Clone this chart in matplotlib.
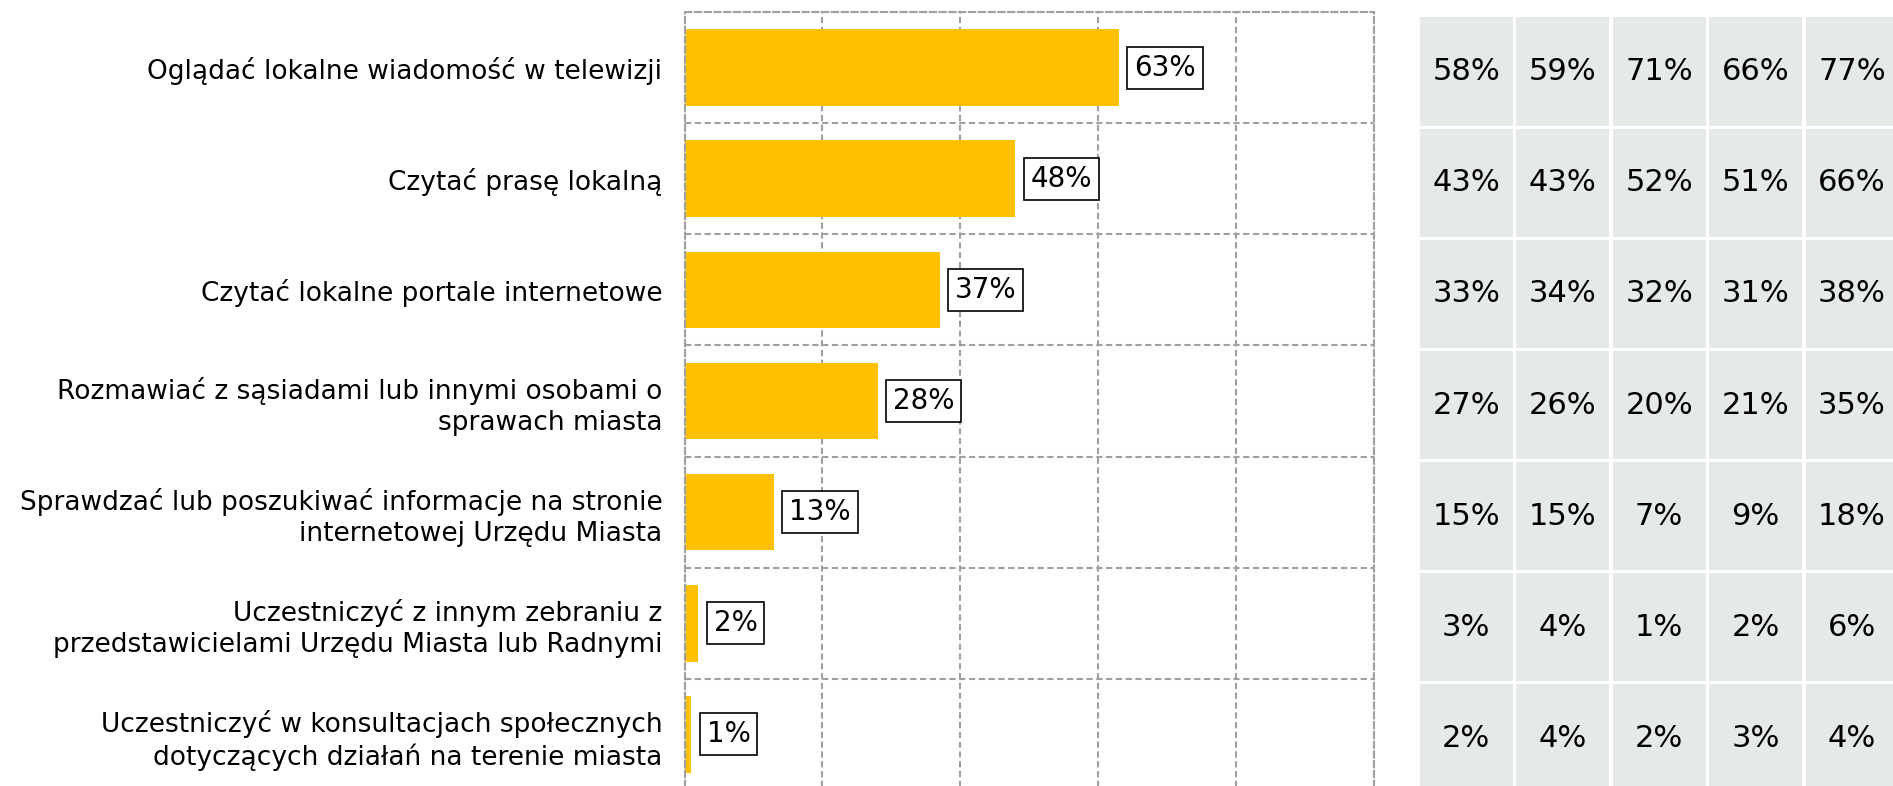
import matplotlib.pyplot as plt
import numpy as np

categories = [
    "Oglądać lokalne wiadomość w telewizji",
    "Czytać prasę lokalną",
    "Czytać lokalne portale internetowe",
    "Rozmawiać z sąsiadami lub innymi osobami o\nsprawach miasta",
    "Sprawdzać lub poszukiwać informacje na stronie\ninternetowej Urzędu Miasta",
    "Uczestniczyć z innym zebraniu z\nprzedstawicielami Urzędu Miasta lub Radnymi",
    "Uczestniczyć w konsultacjach społecznych\ndotyczących działań na terenie miasta",
]
overall = [63, 48, 37, 28, 13, 2, 1]

# breakdown table, one list per column
col1 = [58, 43, 33, 27, 15, 3, 2]
col2 = [59, 43, 34, 26, 15, 4, 4]
col3 = [71, 52, 32, 20, 7, 1, 2]
col4 = [66, 51, 31, 21, 9, 2, 3]
col5 = [77, 66, 38, 35, 18, 6, 4]
table_cols = [col1, col2, col3, col4, col5]

W, H = 1893, 786
fig = plt.figure(figsize=(W / 100, H / 100), dpi=100)

grid_kw = dict(color="#A0A0A0", linestyle=(0, (3, 1.7)), linewidth=1.5)

# bar chart axes (bottom edge sits just below the image)
ax = fig.add_axes([684.5 / W, 1 - 790 / H, 689.5 / W, 778 / H])
y = np.arange(len(categories))
ax.barh(y, overall, height=0.69, color="#FFC000", zorder=2)
ax.set_xlim(0, 100)
ax.set_ylim(len(categories) - 0.5, -0.5)
ax.set_xticks(np.arange(0, 101, 20))
ax.set_yticks(np.arange(-0.5, len(categories), 1), minor=True)
ax.set_yticks(y)
ax.set_yticklabels(categories, fontsize=19, linespacing=1.25)
ax.tick_params(axis="y", which="both", length=0, pad=16)
ax.tick_params(axis="x", length=0, labelbottom=False)
ax.grid(axis="x", which="major", zorder=0, **grid_kw)
ax.grid(axis="y", which="minor", zorder=0, **grid_kw)
for s in ["top", "right", "left", "bottom"]:
    ax.spines[s].set_color("#A0A0A0")
    ax.spines[s].set_linestyle((0, (3, 1.7)))
    ax.spines[s].set_linewidth(1.5)

for yi, v in zip(y, overall):
    ax.annotate(f"{v}%", (v, yi), xytext=(11, 0), textcoords="offset points",
                va="center", ha="left", fontsize=20,
                bbox=dict(boxstyle="square,pad=0.25", fc="white", ec="black", lw=1.2))

# breakdown table drawn as cells
tax = fig.add_axes([1420 / W, 1 - 794 / H, 5 * 96.4 / W, 778 / H])
tax.set_xlim(0, 5)
tax.set_ylim(len(categories) - 0.5, -0.5)
tax.axis("off")
for j, col in enumerate(table_cols):
    tax.barh(y, 0.965, left=j, height=0.975, color="#E6EAE7", align="center")
    for yi, v in zip(y, col):
        tax.text(j + 0.48, yi, f"{v}%", ha="center", va="center", fontsize=22)

fig.savefig("out.png", dpi=100)
